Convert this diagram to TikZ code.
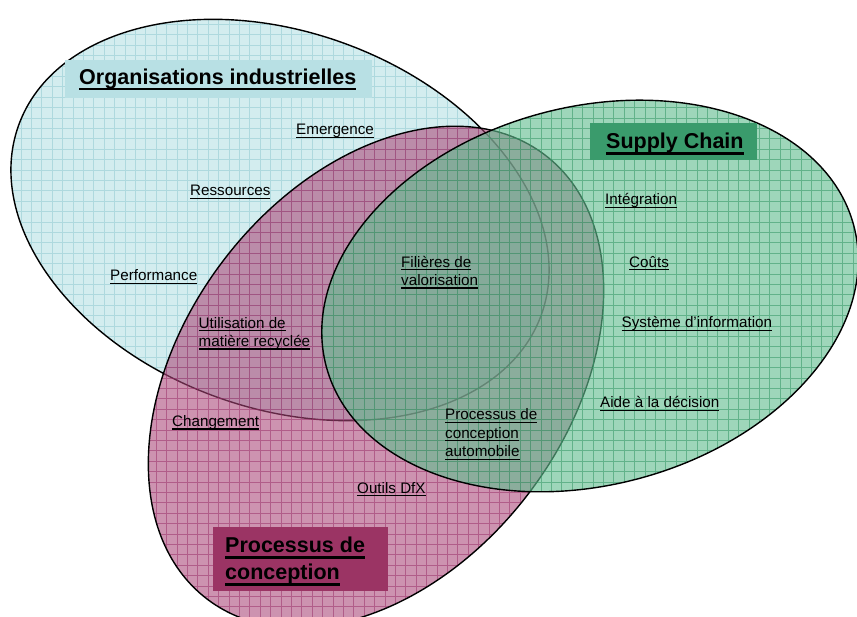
\documentclass[tikz,border=0pt]{standalone}
\usepackage{fontspec}
\setmainfont{Liberation Sans}
\definecolor{orgF}{RGB}{188,228,231}
\definecolor{orgG}{RGB}{165,212,218}
\definecolor{pinkF}{RGB}{170,70,120}
\definecolor{pinkG}{RGB}{150,40,100}
\definecolor{greenF}{RGB}{100,190,145}
\definecolor{greenG}{RGB}{50,150,100}
\definecolor{orgBox}{RGB}{184,224,228}
\definecolor{scBox}{RGB}{58,155,108}
\definecolor{pcBox}{RGB}{155,52,100}
\newcommand{\uls}[1]{\setbox0\hbox{#1}\rlap{\rule[-3pt]{\wd0}{1.3pt}}\box0}
\newcommand{\ult}[1]{\setbox0\hbox{#1}\rlap{\rule[-6pt]{\wd0}{2.8pt}}\box0}
\newcommand{\mlines}[1]{\begin{tabular}[t]{@{}l@{}}#1\end{tabular}}
\tikzset{
  lbl/.style={font=\fontsize{15.2}{18.5}\selectfont, inner sep=0pt, anchor=base west, text=black},
  ttl/.style={font=\bfseries\fontsize{21.5}{27}\selectfont, inner sep=0pt, anchor=base west, text=black},
  tbox/.style={draw=none, inner sep=0pt, anchor=north west},
  outline/.style={draw=black, line width=1.4pt},
  gridline/.style={line width=0.55pt},
}
\begin{document}
\begin{tikzpicture}[x=1pt,y=1pt]
\useasboundingbox (0,0) rectangle (857,617);
\fill[white] (0,0) rectangle (857,617);
% Organisations industrielles
\begin{scope}
  \clip[rotate around={-20:(280,397)}] (280,397) ellipse [x radius=278, y radius=188];
  \fill[orgF, opacity=0.65] (-10,-30) rectangle (870,640);
  \draw[orgG, gridline, opacity=0.8, step=10.4pt] (-10,-30) grid (870,640);
\end{scope}
\draw[outline, rotate around={-20:(280,397)}] (280,397) ellipse [x radius=278, y radius=188];
% Processus de conception
\begin{scope}
  \clip[rotate around={52.8:(376,240)}] (376,240) ellipse [x radius=279, y radius=192];
  \fill[pinkF, opacity=0.58] (-10,-30) rectangle (870,640);
  \draw[pinkG, gridline, opacity=0.5, step=10.4pt] (-10,-30) grid (870,640);
\end{scope}
\draw[outline, rotate around={52.8:(376,240)}] (376,240) ellipse [x radius=279, y radius=192];
% Supply Chain
\begin{scope}
  \clip[rotate around={15:(590,321)}] (590,321) ellipse [x radius=273, y radius=189];
  \fill[greenF, opacity=0.62] (-10,-30) rectangle (870,640);
  \draw[greenG, gridline, opacity=0.55, step=10.4pt] (-10,-30) grid (870,640);
\end{scope}
\draw[outline, rotate around={15:(590,321)}] (590,321) ellipse [x radius=273, y radius=189];
% title boxes
\node[tbox, fill=orgBox, minimum width=307pt, minimum height=37.5pt] (orgbox) at (65,557) {};
\node[tbox, fill=scBox, minimum width=167pt, minimum height=37pt] (scbox) at (590,494) {};
\node[tbox, fill=pcBox, minimum width=175pt, minimum height=64pt] (pcbox) at (213,90) {};
\node[ttl] (orgtitle) at (79,532.5) {\ult{Organisations industrielles}};
\node[ttl] (sctitle) at (606,468) {\ult{Supply Chain}};
\node[ttl] (pctitle) at (225,64) {\mlines{\ult{Processus de}\\\ult{conception}}};
% labels
\node[lbl] (emergence) at (296,482) {\uls{Emergence}};
\node[lbl] (ressources) at (190,421) {\uls{Ressources}};
\node[lbl] (performance) at (110,336) {\uls{Performance}};
\node[lbl] (filieres) at (401,349.7) {\mlines{\uls{Filières de}\\\uls{valorisation}}};
\node[lbl] (utilisation) at (198.5,288.7) {\mlines{\uls{Utilisation de}\\\uls{matière recyclée}}};
\node[lbl] (changement) at (172,190.3) {\uls{Changement}};
\node[lbl] (processusauto) at (445,197) {\mlines{\uls{Processus de}\\\uls{conception}\\\uls{automobile}}};
\node[lbl] (outils) at (357,123.7) {\uls{Outils DfX}};
\node[lbl] (integration) at (605,412) {\uls{Intégration}};
\node[lbl] (couts) at (629,349.7) {\uls{Coûts}};
\node[lbl] (systeme) at (621.5,289) {\uls{Système d’information}};
\node[lbl] (aide) at (600,209) {\uls{Aide à la décision}};
\end{tikzpicture}
\end{document}
